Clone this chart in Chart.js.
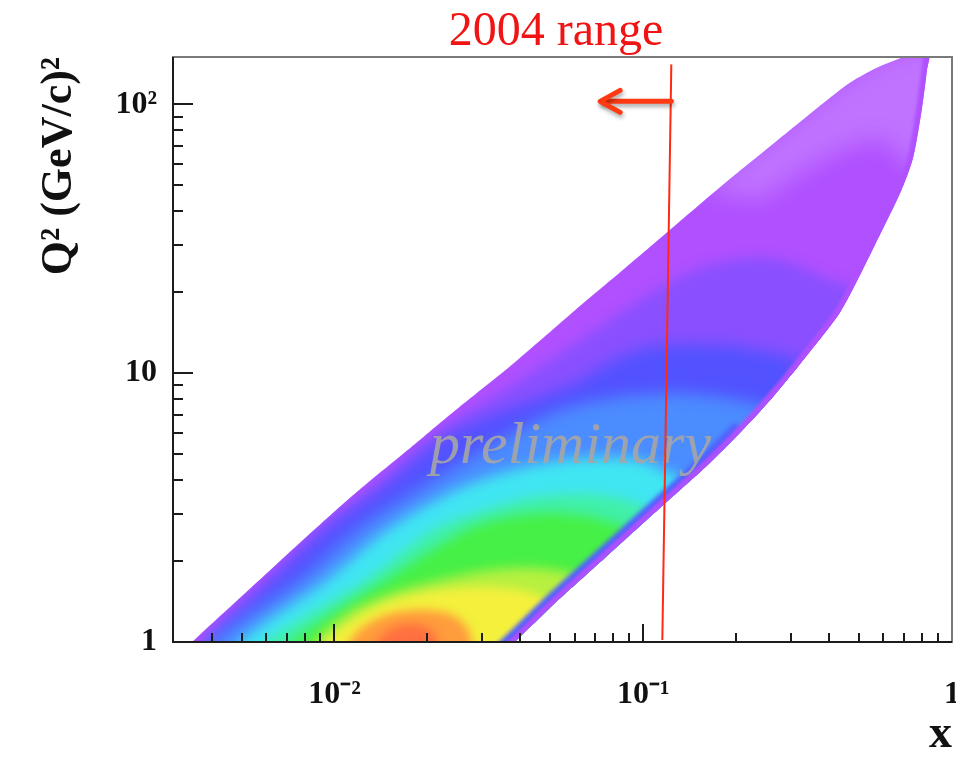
<!DOCTYPE html>
<html>
<head>
<meta charset="utf-8">
<title>Q2 vs x</title>
<script src="https://cdn.jsdelivr.net/npm/chart.js@4.4.1/dist/chart.umd.min.js"></script>
<style>
  body { margin: 0; background: #fff; }
  canvas { display: block; }
</style>
</head>
<body>
<canvas id="kinCanvas" width="956" height="758"></canvas>
<script>
// tick marks and labels
const xTickValues = [0.004, 0.005, 0.006, 0.007, 0.008, 0.009, 0.01, 0.02, 0.03, 0.04, 0.05, 0.06, 0.07, 0.08, 0.09,
    0.1, 0.2, 0.3, 0.4, 0.5, 0.6, 0.7, 0.8, 0.9, 1];
const xMajor = [0.01, 0.1, 1];
const xTickLabels = {0.01: '10⁻²', 0.1: '10⁻¹', 1: '1'};
const yTickValues = [1, 2, 3, 4, 5, 6, 7, 8, 9, 10, 20, 30, 40, 50, 60, 70, 80, 90, 100];
const yMajor = [1, 10, 100];
const yTickLabels = {1: '1', 10: '10', 100: '10²'};

// outline of the populated (x, Q2) region
const bandX = [0.003459, 0.006152, 0.01102, 0.01726, 0.02399, 0.03841, 0.06014, 0.0842, 0.1206, 0.1805, 0.2957, 0.3899,
    0.4699, 0.5665, 0.7092, 0.842, 0.8295, 0.7991, 0.7473, 0.6832, 0.5623, 0.436, 0.3332, 0.2624, 0.2096, 0.159, 0.1179,
    0.07816, 0.05179, 0.0384];
const bandQ2 = [1, 1.836, 3.372, 5.173, 7.101, 10.99, 17.15, 23.74, 33.73, 50.0, 79.37, 102.6, 120.7, 136.1, 150.8, 156.1,
    133.8, 96.6, 63.0, 47.49, 29.92, 17.01, 11.37, 8.144, 6.14, 4.474, 3.286, 2.142, 1.396, 1];

// density contours, from low to high counts
const violetX = [0.003645, 0.003784, 0.005971, 0.008808, 0.01299, 0.02144, 0.0384, 0.06729, 0.09778, 0.1531, 0.2585, 0.4046, 0.5881, 1.07, 1.07, 0.003645];
const violetQ2 = [0.8573, 1, 1.7004, 2.6087, 3.6732, 5.9842, 9.1809, 14.085, 18.677, 24.566, 26.765, 22.169, 18.677, 3.3718, 0.6087, 0.6087];
const blueX = [0.003784, 0.003898, 0.006338, 0.009349, 0.014, 0.02399, 0.06015, 0.07816, 0.1054, 0.1778, 0.2785, 0.4046, 0.5458, 1.07, 1.07, 0.003784];
const blueQ2 = [0.8573, 1, 1.7004, 2.6087, 3.6732, 5.9842, 9.1809, 10.99, 12.49, 12.709, 11.666, 10.09, 9.025, 3.3718, 0.6087, 0.6087];
const lightBlueX = [0.003928, 0.004017, 0.007698, 0.01179, 0.01846, 0.03783, 0.05377, 0.07816, 0.1319, 0.2065, 0.3001, 1.07, 1.07, 0.003928];
const lightBlueQ2 = [0.8573, 1, 1.7004, 2.6087, 3.6732, 5.9842, 7.2871, 8.0745, 8.4276, 7.9375, 6.9817, 2.8414, 0.6087, 0.6087];
const cyanX = [0.004806, 0.004915, 0.009419, 0.01475, 0.02546, 0.03987, 0.06244, 0.09778, 0.1319, 0.1778, 1.07, 1.07, 0.004806];
const cyanQ2 = [0.8573, 1, 1.7004, 2.6087, 3.7366, 4.4359, 4.8315, 4.7495, 4.0705, 3.5193, 2.0176, 0.6087, 0.6087];
const tealX = [0.005838, 0.006015, 0.0127, 0.02081, 0.02957, 0.04296, 0.06244, 0.08743, 0.1136, 0.1531, 1.07, 1.07, 0.005838];
const tealQ2 = [0.8573, 1, 1.7004, 2.6087, 3.0427, 3.4301, 3.5496, 3.3718, 2.9656, 2.4995, 1.4327, 0.6087, 0.6087];
const greenX = [0.007144, 0.007306, 0.01475, 0.02683, 0.03564, 0.0499, 0.06985, 0.09076, 0.1224, 1.07, 1.07, 0.007144];
const greenQ2 = [0.8573, 1, 1.7004, 2.6087, 2.8904, 3.0168, 2.8904, 2.6087, 2.106, 1.0173, 0.6087, 0.6087];
const limeX = [0.008421, 0.008612, 0.01119, 0.01566, 0.02193, 0.03186, 0.0446, 0.06015, 0.07816, 0.1136, 0.008421];
const limeQ2 = [0.8573, 1, 1.2929, 1.5344, 1.7004, 1.8524, 1.8844, 1.7747, 1.4954, 0.6632, 0.6087];
const yellowX = [0.00921, 0.009419, 0.01205, 0.01566, 0.02112, 0.02957, 0.03987, 0.0499, 0.06015, 0.07251, 0.00921];
const yellowQ2 = [0.8573, 1, 1.2495, 1.4327, 1.5476, 1.6015, 1.5609, 1.4327, 1.2601, 0.8573, 0.6087];
const orangeX = [0.01078, 0.01119, 0.01251, 0.01508, 0.01916, 0.02363, 0.02663, 0.02785, 0.02848];
const orangeQ2 = [0.8573, 1, 1.1466, 1.271, 1.3153, 1.271, 1.1466, 1, 0.8573];
const redX = [0.01319, 0.01369, 0.01508, 0.01726, 0.01975, 0.02128, 0.02193];
const redQ2 = [0.8573, 1, 1.1082, 1.1665, 1.1368, 1.0527, 0.8573];
// thinly populated corner at high Q2
const sparseX = [0.1531, 0.2785, 0.4699, 0.6832, 0.9925, 0.9561, 0.8233, 0.5881, 0.3755, 0.2398];
const sparseQ2 = [47.9, 80.05, 128.2, 158.7, 165.7, 80.05, 52.18, 73.48, 61.92, 43.97];
// low-x/high-y cut edge
const edgeX = [0.842, 0.8295, 0.7991, 0.7473, 0.6832, 0.5623, 0.436, 0.3332, 0.2624, 0.2096, 0.159, 0.1179, 0.07816, 0.05179, 0.0384, 0.03332];
const edgeQ2 = [156.1, 133.8, 96.6, 63.0, 47.49, 29.92, 17.01, 11.37, 8.144, 6.14, 4.474, 3.286, 2.142, 1.396, 1, 0.8573];
const edgeInnerX = [0.2096, 0.159, 0.1179, 0.07816, 0.05179, 0.0384, 0.03332];
const edgeInnerQ2 = [6.14, 4.474, 3.286, 2.142, 1.396, 1, 0.8573];

// "2004 range" marker
const rangeX = [0.1153, 0.1233];
const rangeQ2 = [1.017, 140.8];
const arrowX = [0.1233, 0.0736];
const arrowQ2 = [102.6, 102.6];
const arrowHeadX = [0.0842, 0.07251, 0.0842];
const arrowHeadQ2 = [112.7, 102.6, 93.38];

const serif = '"Liberation Serif", "Times New Roman", serif';

function toPoints(xs, ys) {
    return xs.map((x, i) => ({x: x, y: ys[i]}));
}

function layer(xs, ys, color, blur) {
    return {data: toPoints(xs, ys), backgroundColor: color, fill: 'shape', borderWidth: 0, pointRadius: 0,
        tension: blur ? 0.3 : 0.25, blur: blur, clipToBand: blur > 0};
}

function edge(xs, ys, color, width, blur) {
    return {data: toPoints(xs, ys), borderColor: color, borderWidth: width, fill: false, pointRadius: 0,
        tension: 0.25, blur: blur, clipToBand: true};
}

const datasets = [
    layer(bandX, bandQ2, '#b050ff', 0),
    layer(violetX, violetQ2, '#8a50ff', 6),
    layer(blueX, blueQ2, '#5252ff', 8),
    layer(lightBlueX, lightBlueQ2, '#4b8cff', 8),
    layer(cyanX, cyanQ2, '#40e6f2', 7),
    layer(tealX, tealQ2, '#40f0a8', 6),
    layer(greenX, greenQ2, '#46f046', 6),
    layer(limeX, limeQ2, '#b8f040', 6),
    layer(yellowX, yellowQ2, '#f4f03c', 5),
    layer(orangeX, orangeQ2, '#ff9c3c', 5),
    layer(redX, redQ2, '#ff7040', 5),
    layer(sparseX, sparseQ2, 'rgba(255,255,255,0.2)', 12),
    edge(edgeInnerX, edgeInnerQ2, '#5060ff', 22, 2),
    edge(edgeX, edgeQ2, '#b050ff', 11, 1.5),
    {data: toPoints(rangeX, rangeQ2), borderColor: '#ff2a10', borderWidth: 2, fill: false, pointRadius: 0, drawNote: true},
    {data: toPoints(arrowX, arrowQ2), borderColor: '#ff3a12', borderWidth: 5, fill: false, pointRadius: 0,
        borderCapStyle: 'round', shadow: true},
    {data: toPoints(arrowHeadX, arrowHeadQ2), borderColor: '#ff3a12', borderWidth: 5, fill: false, pointRadius: 0,
        borderCapStyle: 'round', borderJoinStyle: 'round', shadow: true}
];
datasets.forEach((d, i) => d.order = datasets.length - i);

// blur + clip each contour layer to the populated region (runs before the filler)
const layerPlugin = {
    id: 'densityLayers',
    beforeDatasetDraw(chart, args) {
        const ds = chart.data.datasets[args.index];
        const ctx = chart.ctx;
        if (ds.drawNote) {
            ctx.save();
            ctx.font = 'italic 60px ' + serif;
            ctx.fillStyle = 'rgba(165,165,165,0.9)';
            ctx.textBaseline = 'alphabetic';
            ctx.fillText('preliminary', 430, 463);
            ctx.restore();
        }
        ctx.save();
        if (ds.clipToBand) {
            const band = chart.getDatasetMeta(0).dataset;
            band.updateControlPoints(chart.chartArea, 'x');
            ctx.beginPath();
            band.path(ctx);
            ctx.closePath();
            ctx.clip();
        }
        if (ds.blur) ctx.filter = 'blur(' + ds.blur + 'px)';
        if (ds.shadow) {
            ctx.shadowColor = 'rgba(0,0,0,0.35)';
            ctx.shadowBlur = 4;
            ctx.shadowOffsetX = 1;
            ctx.shadowOffsetY = 3;
        }
    },
    afterDatasetDraw(chart) {
        chart.ctx.restore();
    }
};

const filler = Chart.registry.getPlugin('filler');
Chart.unregister(filler);
Chart.register(layerPlugin, filler);

// ROOT style frame with inward ticks
const framePlugin = {
    id: 'rootFrame',
    afterDraw(chart) {
        const {ctx, chartArea: a} = chart;
        const xs = chart.scales.x, ys = chart.scales.y;
        ctx.save();
        ctx.lineWidth = 2;
        ctx.strokeStyle = '#7a7a7a';
        ctx.strokeRect(a.left, a.top, a.right - a.left, a.bottom - a.top);
        ctx.strokeStyle = '#1c1c1c';
        ctx.beginPath();
        ctx.moveTo(a.left, a.top);
        ctx.lineTo(a.left, a.bottom);
        ctx.lineTo(a.right, a.bottom);
        yTickValues.forEach(v => {
            if (v === 1) return;
            const py = Math.round(ys.getPixelForValue(v));
            ctx.moveTo(a.left, py);
            ctx.lineTo(a.left + (yMajor.includes(v) ? 20 : 10), py);
        });
        xTickValues.forEach(v => {
            if (v === 1) return;
            const px = Math.round(xs.getPixelForValue(v));
            ctx.moveTo(px, a.bottom);
            ctx.lineTo(px, a.bottom - (xMajor.includes(v) ? 18 : 9));
        });
        ctx.stroke();

        ctx.fillStyle = '#f01414';
        ctx.font = '48px ' + serif;
        ctx.textAlign = 'center';
        ctx.fillText('2004 range', 556, 45);
        ctx.restore();
    }
};

const tickFont = {family: serif, size: 32, weight: 'bold'};

const kinChart = new Chart(document.getElementById('kinCanvas'), {
    type: 'line',
    data: {datasets: datasets},
    options: {
        responsive: false,
        animation: false,
        devicePixelRatio: 1,
        layout: {padding: {top: 57, right: 4, left: 0, bottom: 0}},
        plugins: {legend: {display: false}, tooltip: {enabled: false}, colors: {enabled: false}},
        scales: {
            x: {
                type: 'logarithmic', min: 0.003, max: 1,
                afterBuildTicks: s => { s.ticks = xTickValues.map(v => ({value: v})); },
                afterFit: s => { s.height = 116; s.paddingLeft = 0; s.paddingRight = 0; },
                grid: {display: false}, border: {display: false},
                ticks: {autoSkip: false, maxRotation: 0, padding: 26, color: '#111', font: tickFont,
                    callback: v => xTickLabels[v] || ''},
                title: {display: true, text: 'x', align: 'end', color: '#111', padding: 0,
                    font: {family: serif, size: 46, weight: 'bold', lineHeight: 1}}
            },
            y: {
                type: 'logarithmic', min: 1, max: 150,
                afterBuildTicks: s => { s.ticks = yTickValues.map(v => ({value: v})); },
                afterFit: s => { s.width = 173; s.paddingTop = 0; s.paddingBottom = 0; },
                grid: {display: false}, border: {display: false},
                ticks: {autoSkip: false, padding: 8, color: '#111', font: tickFont,
                    callback: v => yTickLabels[v] || ''},
                title: {display: true, text: 'Q² (GeV/c)²', align: 'end', color: '#111', padding: {top: 38},
                    font: {family: serif, size: 44, weight: 'bold', lineHeight: 1}}
            }
        }
    },
    plugins: [framePlugin]
});
</script>
</body>
</html>
